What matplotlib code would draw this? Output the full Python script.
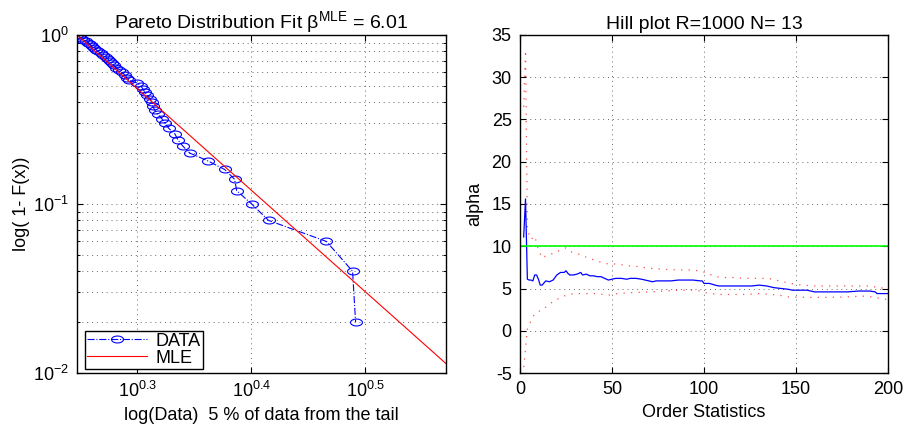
import numpy as np
import matplotlib
matplotlib.use('Agg')
import matplotlib.pyplot as plt
from matplotlib.path import Path
from matplotlib.ticker import FixedLocator, NullLocator, LogLocator

plt.rcParams['font.family'] = ['Liberation Sans', 'DejaVu Sans']
plt.rcParams['mathtext.fontset'] = 'custom'
plt.rcParams['mathtext.rm'] = 'Liberation Sans'
plt.rcParams['mathtext.it'] = 'Liberation Sans:italic'
plt.rcParams['mathtext.bf'] = 'Liberation Sans:bold'
plt.rcParams['axes.unicode_minus'] = False

# largest 5 % of the sample (50 of 1000) and their empirical 1 - F(x)
tail_data = [1.767, 1.774, 1.781, 1.788, 1.799, 1.806, 1.814, 1.821, 1.829, 1.836,
             1.843, 1.854, 1.862, 1.873, 1.881, 1.888, 1.896, 1.904, 1.911, 1.923,
             1.935, 1.946, 1.954, 1.962, 1.994, 2.010, 2.018, 2.026, 2.034, 2.047,
             2.055, 2.059, 2.067, 2.080, 2.097, 2.110, 2.127, 2.153, 2.166, 2.188,
             2.219, 2.301, 2.381, 2.429, 2.439, 2.514, 2.601, 2.924, 3.082, 3.101]
survival = [1.00, 0.98, 0.96, 0.94, 0.92, 0.90, 0.88, 0.86, 0.84, 0.82,
            0.80, 0.78, 0.76, 0.74, 0.72, 0.70, 0.68, 0.66, 0.64, 0.62,
            0.60, 0.58, 0.56, 0.54, 0.52, 0.50, 0.48, 0.46, 0.44, 0.42,
            0.40, 0.38, 0.36, 0.34, 0.32, 0.30, 0.28, 0.26, 0.24, 0.22,
            0.20, 0.18, 0.16, 0.14, 0.12, 0.10, 0.08, 0.06, 0.04, 0.02]
beta_mle = 6.01

# Hill estimator against number of order statistics, with its confidence band
hill_k = [2, 3, 4, 5, 6, 7, 8, 9, 10, 11, 12, 14, 16, 18, 20, 22, 24, 25, 26, 27,
          29, 31, 33, 34, 36, 38, 40, 42, 44, 46, 48, 50, 52, 55, 58, 60, 63, 66, 68, 70,
          72, 74, 78, 82, 86, 90, 94, 98, 99, 100, 103, 106, 108, 110, 114, 118, 122, 126, 130, 134,
          138, 142, 146, 148, 152, 156, 160, 166, 172, 178, 184, 190, 193, 194, 197, 200]
hill_alpha = [11.1, 15.6, 6.1, 6.0, 6.0, 5.9, 6.6, 6.6, 6.1, 5.4, 5.4, 5.9, 5.8, 6.0, 6.6, 6.9, 6.9, 7.1, 6.8, 6.6,
              6.6, 6.7, 6.9, 6.6, 6.7, 6.5, 6.5, 6.4, 6.4, 6.2, 6.0, 6.1, 6.2, 6.2, 6.1, 6.2, 6.2, 6.1, 6.0, 5.9,
              5.8, 5.9, 5.9, 5.9, 6.0, 6.0, 6.0, 5.9, 5.9, 5.6, 5.6, 5.4, 5.3, 5.3, 5.3, 5.3, 5.3, 5.3, 5.4, 5.3,
              5.1, 5.0, 4.9, 4.8, 4.8, 4.8, 4.6, 4.6, 4.6, 4.6, 4.7, 4.7, 4.6, 4.4, 4.4, 4.4]
upper_k = [2, 3, 4, 5, 6, 8, 10, 12, 15, 19, 23, 25, 27, 30, 33, 36, 40, 44, 48, 53,
           58, 64, 70, 76, 86, 94, 99, 102, 106, 110, 116, 122, 128, 135, 141, 147, 153, 160, 170, 180,
           190, 195, 200]
upper = [26.5, 33.2, 12.0, 11.3, 10.8, 11.2, 9.6, 8.6, 9.0, 9.2, 9.7, 9.8, 9.4, 9.2, 9.0, 8.7, 8.4, 8.1, 7.9, 7.9,
         7.7, 7.6, 7.4, 7.3, 7.2, 7.2, 7.0, 6.8, 6.4, 6.3, 6.3, 6.2, 6.2, 6.2, 5.9, 5.6, 5.4, 5.3, 5.3, 5.3,
         5.3, 5.1, 5.0]
lower_k = [2, 3, 4, 5, 6, 8, 10, 12, 15, 19, 23, 26, 31, 36, 42, 48, 53, 60, 70, 78,
           87, 96, 101, 107, 114, 123, 130, 136, 141, 146, 158, 167, 177, 186, 192, 196, 200]
lower = [-4.3, -2.1, 0.2, 0.7, 1.2, 2.0, 2.3, 2.4, 3.0, 3.6, 4.0, 4.3, 4.4, 4.4, 4.4, 4.2, 4.4, 4.5, 4.6, 4.7,
         4.8, 4.8, 4.5, 4.3, 4.3, 4.3, 4.4, 4.3, 4.2, 4.0, 3.95, 3.95, 4.0, 4.1, 4.0, 3.8, 3.7]
alpha_ref = 10

# MATLAB style 'o' marker, drawn squashed into an ellipse
t = np.linspace(0, 2 * np.pi, 40)
ellipse = Path(np.column_stack([np.cos(t), 0.58 * np.sin(t)]), closed=True)

fig = plt.figure(figsize=(9.11, 4.29), dpi=100)
ax1 = fig.add_axes([0.0845, 0.1305, 0.405, 0.788])
ax2 = fig.add_axes([0.5708, 0.1305, 0.404, 0.788])

grid_kw = dict(color='0.4', linestyle=(0, (1, 4)), linewidth=0.7)

# ---- left: log-log tail plot with the fitted Pareto line
x = np.array(tail_data)
xlo, xhi = x.min(), 1.2 * x.max()
ax1.plot(x, survival, color='blue', linestyle='-.', linewidth=0.8,
         marker=ellipse, markersize=8.6, markerfacecolor='none',
         markeredgecolor='blue', markeredgewidth=0.8, label='DATA')
xf = np.array([xlo, xhi])
ax1.plot(xf, (xf / xlo) ** (-beta_mle), color='red', linewidth=0.8, label='MLE')
ax1.set_xscale('log')
ax1.set_yscale('log')
ax1.set_xlim(xlo, xhi)
ax1.set_ylim(0.01, 1)
ax1.xaxis.set_major_locator(FixedLocator([10 ** 0.3, 10 ** 0.4, 10 ** 0.5]))
ax1.xaxis.set_minor_locator(NullLocator())
ax1.set_xticklabels([r'$10^{0.3}$', r'$10^{0.4}$', r'$10^{0.5}$'])
ax1.set_yticks([0.01, 0.1, 1])
ax1.set_yticklabels([r'$10^{-2}$', r'$10^{-1}$', r'$10^{0}$'])
ax1.yaxis.set_minor_locator(LogLocator(base=10, subs=np.arange(2, 10)))
ax1.grid(True, which='major', axis='both', **grid_kw)
ax1.grid(True, which='minor', axis='y', **grid_kw)
ax1.set_title('Pareto Distribution Fit β$^{\\mathrm{MLE}}$ = 6.01', fontsize=14, pad=4)
ax1.set_xlabel('log(Data)  5 % of data from the tail', fontsize=13, labelpad=4)
ax1.set_ylabel('log( 1- F(x))', fontsize=13, labelpad=2)
leg = ax1.legend(loc='lower left', bbox_to_anchor=(0.022, 0.012), fontsize=13,
                 handlelength=3.3, borderaxespad=0, fancybox=False, framealpha=1,
                 edgecolor='black', borderpad=0.12, labelspacing=0.0, handletextpad=0.5)
leg.get_frame().set_linewidth(1.0)

# ---- right: Hill plot
ax2.plot(upper_k, upper, color='red', linestyle=(0, (1, 5)), linewidth=0.9, alpha=0.7)
ax2.plot(lower_k, lower, color='red', linestyle=(0, (1, 5)), linewidth=0.9, alpha=0.7)
ax2.plot(hill_k, hill_alpha, color='blue', linewidth=0.9)
ax2.plot([0, 200], [alpha_ref, alpha_ref], color=(0, 1, 0), linewidth=1.2)
ax2.set_xlim(0, 200)
ax2.set_ylim(-5, 35)
ax2.set_xticks(np.arange(0, 201, 50))
ax2.set_yticks(np.arange(-5, 36, 5))
ax2.grid(True, **grid_kw)
ax2.set_title('Hill plot R=1000 N= 13', fontsize=14, pad=4)
ax2.set_xlabel('Order Statistics', fontsize=13, labelpad=4)
ax2.set_ylabel('alpha', fontsize=13, labelpad=6)

for ax in (ax1, ax2):
    ax.tick_params(which='both', direction='in', top=True, right=True, labelsize=13)
    ax.tick_params(which='major', length=4, width=0.8, pad=6)
    ax.tick_params(which='minor', length=2.5, width=0.7)
    for s in ax.spines.values():
        s.set_linewidth(1.0)

fig.savefig('out.png', dpi=100)
